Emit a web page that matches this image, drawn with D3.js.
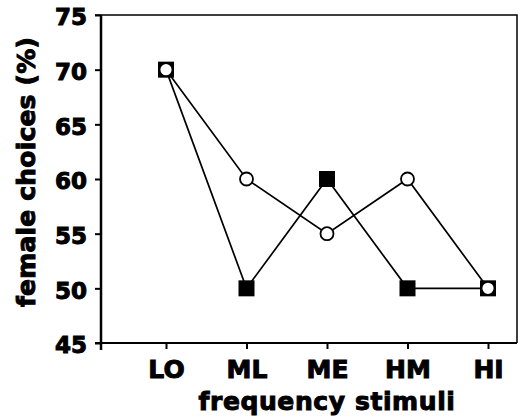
<!DOCTYPE html>
<html>
<head>
<meta charset="utf-8">
<script src="https://cdn.jsdelivr.net/npm/d3@7"></script>
<style>
  body { margin: 0; background: #fff; }
  text { font-family: "DejaVu Sans", sans-serif; font-weight: bold; }
</style>
</head>
<body>
<svg id="chart" width="521" height="419"></svg>
<script>
// Data
const categories = ["LO", "ML", "ME", "HM", "HI"];
const squareValues = [70, 50, 60, 50, 50];   // filled squares
const circleValues = [70, 60, 55, 60, 50];   // open circles
const yTicks = [45, 50, 55, 60, 65, 70, 75];

const svg = d3.select("#chart");
let mLeft = 101, mRight = 517, mTop = 15, mBottom = 343;

let x = d3.scalePoint()
    .domain(categories)
    .range([166, 488]);
let y = d3.scaleLinear()
    .domain([45, 75])
    .range([mBottom, mTop]);

// Frame (top and right, thin)
svg.append("path")
    .attr("d", `M${mLeft - 6},${mTop}H${mRight}V${mBottom}`)
    .attr("fill", "none")
    .attr("stroke", "#000")
    .attr("stroke-width", 1.5);

// y axis
let yAxis = svg.append("g")
    .attr("transform", `translate(${mLeft},0)`)
    .call(d3.axisLeft(y).tickValues(yTicks).tickSize(6).tickPadding(8));
yAxis.select(".domain").remove();
yAxis.append("line")
    .attr("x1", 0).attr("x2", 0)
    .attr("y1", mTop).attr("y2", mBottom + 7)
    .attr("stroke", "#000").attr("stroke-width", 2.5);
yAxis.selectAll(".tick text").style("font-size", "23px").attr("dy", "0.42em");

// x axis
let xAxis = svg.append("g")
    .attr("transform", `translate(0,${mBottom})`)
    .call(d3.axisBottom(x).tickSize(6).tickPadding(11));
xAxis.select(".domain").remove();
xAxis.append("line")
    .attr("x1", mLeft - 6).attr("x2", mRight)
    .attr("y1", 0).attr("y2", 0)
    .attr("stroke", "#000").attr("stroke-width", 2);
xAxis.selectAll(".tick text").style("font-size", "25px");

svg.selectAll(".tick line").attr("stroke", "#000").attr("stroke-width", 2);
svg.selectAll(".tick text")
    .attr("fill", "#000")
    .attr("stroke", "#000")
    .attr("stroke-width", 1);

// axis titles
svg.append("text")
    .attr("x", 327).attr("y", 410)
    .attr("text-anchor", "middle")
    .attr("stroke", "#000").attr("stroke-width", 1)
    .style("font-size", "25px")
    .style("letter-spacing", "0.6px")
    .text("frequency stimuli");
svg.append("text")
    .attr("transform", "translate(35,172) rotate(-90)")
    .attr("text-anchor", "middle")
    .attr("stroke", "#000").attr("stroke-width", 1)
    .style("font-size", "25px")
    .style("letter-spacing", "0.2px")
    .text("female choices (%)");

let line = d3.line()
    .x((d, i) => x(categories[i]))
    .y(d => y(d));

// lines
[squareValues, circleValues].forEach(vals => {
    svg.append("path")
        .datum(vals)
        .attr("d", line)
        .attr("fill", "none")
        .attr("stroke", "#000")
        .attr("stroke-width", 1.7);
});

// filled squares
svg.selectAll(".sq")
    .data(squareValues)
    .join("rect")
        .attr("class", "sq")
        .attr("x", (d, i) => x(categories[i]) - 8)
        .attr("y", d => y(d) - 8)
        .attr("width", 16)
        .attr("height", 16)
        .attr("fill", "#000");

// open circles
svg.selectAll(".ci")
    .data(circleValues)
    .join("circle")
        .attr("class", "ci")
        .attr("cx", (d, i) => x(categories[i]))
        .attr("cy", d => y(d))
        .attr("r", 6.5)
        .attr("fill", "#fff")
        .attr("stroke", "#000")
        .attr("stroke-width", 1.8);
</script>
</body>
</html>
